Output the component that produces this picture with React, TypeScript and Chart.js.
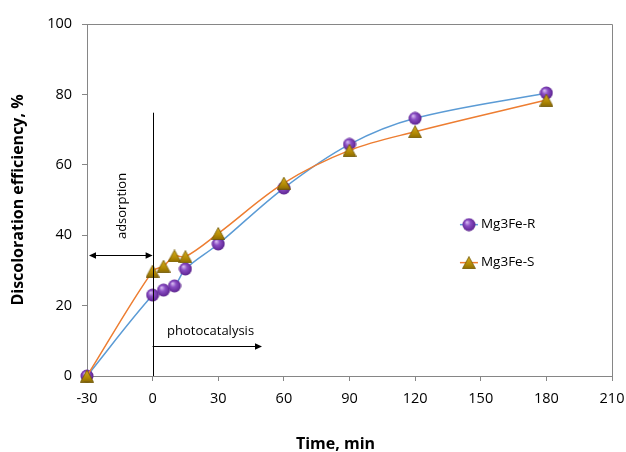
import React, { useEffect, useRef } from 'react';
import { Chart, registerables } from 'chart.js';

Chart.register(...registerables);

// ---- data ----
const timeMin = [-30, 0, 5, 10, 15, 30, 60, 90, 120, 180];
const mg3feR = [0, 23.0, 24.4, 25.6, 30.4, 37.5, 53.4, 65.8, 73.2, 80.4];
const mg3feS = [0, 29.8, 31.2, 34.1, 33.9, 40.5, 54.8, 64.1, 69.4, 78.4];
const seriesNames = ['Mg3Fe-R', 'Mg3Fe-S'];
const xRange = [-30, 210];
const yRange = [0, 100];
const xStep = 30;
const yStep = 20;
const xTitle = 'Time, min';
const yTitle = 'Discoloration efficiency, %';
const phaseLabels = ['adsorption', 'photocatalysis'];

// ---- annotation placement (data coordinates) ----
const boundaryX = 0;
const boundaryTop = 74.8;
const adsorptionArrow = { x1: -30, x2: 0, y: 34.5 };
const adsorptionText = { x: -13.7, y: 48.3 };
const photoArrow = { x1: 0, x2: 50, y: 8.6 };
const photoText = { x: 26.5, y: 12.6 };
const legendAnchor = { x: 144.6, y: 43.0 };
const legendGap = 38;

const FONT = '"Open Sans", "DejaVu Sans", sans-serif';
const BLUE = '#5B9BD5';
const ORANGE = '#ED7D31';
const AXIS = '#868686';

function makeSphere(): HTMLCanvasElement {
  const c = document.createElement('canvas');
  c.width = 14;
  c.height = 14;
  const g = c.getContext('2d')!;
  const grad = g.createRadialGradient(5, 4.5, 0.5, 7, 7, 7.5);
  grad.addColorStop(0, '#d2b4ee');
  grad.addColorStop(0.35, '#8b4fc4');
  grad.addColorStop(0.8, '#652a9a');
  grad.addColorStop(1, '#43176c');
  g.fillStyle = grad;
  g.beginPath();
  g.arc(7, 7, 6.5, 0, Math.PI * 2);
  g.fill();
  return c;
}

function makeTriangle(): HTMLCanvasElement {
  const c = document.createElement('canvas');
  c.width = 14;
  c.height = 13;
  const g = c.getContext('2d')!;
  const grad = g.createLinearGradient(0, 0, 0, 13);
  grad.addColorStop(0, '#d9b21c');
  grad.addColorStop(0.6, '#b48b06');
  grad.addColorStop(1, '#8a6a00');
  g.fillStyle = grad;
  g.beginPath();
  g.moveTo(7, 0.5);
  g.lineTo(13.5, 12.5);
  g.lineTo(0.5, 12.5);
  g.closePath();
  g.fill();
  g.strokeStyle = '#6f5500';
  g.lineWidth = 0.8;
  g.stroke();
  return c;
}

function arrowHead(ctx: CanvasRenderingContext2D, x: number, y: number, dir: number) {
  ctx.beginPath();
  ctx.moveTo(x, y);
  ctx.lineTo(x - dir * 7, y - 3.2);
  ctx.lineTo(x - dir * 7, y + 3.2);
  ctx.closePath();
  ctx.fill();
}

export default function App() {
  const ref = useRef<HTMLCanvasElement | null>(null);

  useEffect(() => {
    document.body.style.margin = '0';
    const canvas = ref.current;
    if (!canvas) return;
    const sphere = makeSphere();
    const tri = makeTriangle();

    const frame = {
      id: 'frame',
      beforeDatasetsDraw(chart: any) {
        const { ctx, chartArea } = chart;
        const l = Math.round(chartArea.left) + 0.5;
        const t = Math.round(chartArea.top) + 0.5;
        const r = Math.round(chartArea.right) + 0.5;
        const b = Math.round(chartArea.bottom) + 0.5;
        ctx.save();
        ctx.strokeStyle = AXIS;
        ctx.lineWidth = 1;
        ctx.beginPath();
        ctx.moveTo(l, t);
        ctx.lineTo(r, t);
        ctx.lineTo(r, b);
        ctx.stroke();
        ctx.restore();
      },
      afterDraw(chart: any) {
        const { ctx, chartArea, scales } = chart;
        const xs = scales.x;
        const ys = scales.y;
        ctx.save();
        // x title
        ctx.fillStyle = '#000';
        ctx.font = `bold 16px ${FONT}`;
        ctx.textAlign = 'center';
        ctx.textBaseline = 'middle';
        ctx.fillText(xTitle, (chartArea.left + chartArea.right) / 2 - 14, 444);

        // boundary line
        ctx.strokeStyle = '#000';
        ctx.fillStyle = '#000';
        ctx.lineWidth = 1;
        const bx = Math.round(xs.getPixelForValue(boundaryX)) + 0.5;
        ctx.beginPath();
        ctx.moveTo(bx, ys.getPixelForValue(boundaryTop));
        ctx.lineTo(bx, ys.getPixelForValue(0));
        ctx.stroke();

        // adsorption arrow (double headed)
        const ay = Math.round(ys.getPixelForValue(adsorptionArrow.y)) + 0.5;
        const ax1 = xs.getPixelForValue(adsorptionArrow.x1) + 2;
        const ax2 = xs.getPixelForValue(adsorptionArrow.x2);
        ctx.beginPath();
        ctx.moveTo(ax1 + 4, ay);
        ctx.lineTo(ax2 - 4, ay);
        ctx.stroke();
        arrowHead(ctx, ax1, ay, -1);
        arrowHead(ctx, ax2, ay, 1);

        // photocatalysis arrow
        const py = Math.round(ys.getPixelForValue(photoArrow.y)) + 0.5;
        const px1 = xs.getPixelForValue(photoArrow.x1);
        const px2 = xs.getPixelForValue(photoArrow.x2);
        ctx.beginPath();
        ctx.moveTo(px1, py);
        ctx.lineTo(px2 - 4, py);
        ctx.stroke();
        arrowHead(ctx, px2, py, 1);

        // texts
        ctx.font = `13px ${FONT}`;
        ctx.textAlign = 'center';
        ctx.textBaseline = 'middle';
        ctx.fillText(phaseLabels[1], xs.getPixelForValue(photoText.x), ys.getPixelForValue(photoText.y));
        ctx.save();
        ctx.translate(xs.getPixelForValue(adsorptionText.x), ys.getPixelForValue(adsorptionText.y));
        ctx.rotate(-Math.PI / 2);
        ctx.fillText(phaseLabels[0], 0, 0);
        ctx.restore();

        // legend
        const lx = xs.getPixelForValue(legendAnchor.x);
        const ly = ys.getPixelForValue(legendAnchor.y);
        const items = [
          { name: seriesNames[0], color: BLUE, img: sphere },
          { name: seriesNames[1], color: ORANGE, img: tri },
        ];
        items.forEach((it, i) => {
          const y = ly + i * legendGap;
          ctx.strokeStyle = it.color;
          ctx.lineWidth = 1.5;
          ctx.beginPath();
          ctx.moveTo(lx - 9, y);
          ctx.lineTo(lx + 9, y);
          ctx.stroke();
          ctx.drawImage(it.img, lx - it.img.width / 2, y - it.img.height / 2);
          ctx.fillStyle = '#000';
          ctx.font = `13.5px ${FONT}`;
          ctx.textAlign = 'left';
          ctx.textBaseline = 'middle';
          ctx.fillText(it.name, lx + 12, y);
        });
        ctx.restore();
      },
    };

    const tickFont = { family: FONT, size: 14.5 };
    const chart = new Chart(canvas, {
      type: 'line',
      data: {
        datasets: [
          {
            label: seriesNames[0],
            data: timeMin.map((x, i) => ({ x, y: mg3feR[i] })),
            borderColor: BLUE,
            backgroundColor: BLUE,
            borderWidth: 1.5,
            tension: 0.35,
            pointStyle: sphere,
            pointRadius: 7,
            clip: false,
            order: 1,
          },
          {
            label: seriesNames[1],
            data: timeMin.map((x, i) => ({ x, y: mg3feS[i] })),
            borderColor: ORANGE,
            backgroundColor: ORANGE,
            borderWidth: 1.5,
            tension: 0.35,
            pointStyle: tri,
            pointRadius: 7,
            clip: false,
            order: 0,
          },
        ],
      },
      options: {
        responsive: false,
        animation: false,
        events: [],
        layout: { padding: { top: 24, right: 14, left: 0, bottom: 0 } },
        plugins: { legend: { display: false }, tooltip: { enabled: false } },
        scales: {
          x: {
            type: 'linear',
            min: xRange[0],
            max: xRange[1],
            ticks: { stepSize: xStep, color: '#000', font: tickFont, padding: 9 },
            grid: { drawOnChartArea: false, drawTicks: true, tickLength: 5, color: AXIS },
            border: { color: AXIS, width: 1 },
            afterFit: (s: any) => {
              s.height = 76;
              s.paddingLeft = 0;
              s.paddingRight = 0;
            },
          },
          y: {
            min: yRange[0],
            max: yRange[1],
            ticks: { stepSize: yStep, color: '#000', font: tickFont, padding: 10 },
            grid: { drawOnChartArea: false, drawTicks: true, tickLength: 5, color: AXIS },
            border: { color: AXIS, width: 1 },
            title: {
              display: true,
              text: yTitle,
              color: '#000',
              font: { family: FONT, size: 16, weight: 'bold' },
              padding: { top: 9, bottom: 0 },
            },
            afterFit: (s: any) => {
              s.width = 87;
              s.paddingTop = 0;
              s.paddingBottom = 0;
            },
          },
        },
      } as any,
      plugins: [frame],
    });
    return () => chart.destroy();
  }, []);

  return (
    <div style={{ width: 626, height: 452, background: '#fff' }}>
      <canvas ref={ref} width={626} height={452} style={{ display: 'block' }} />
    </div>
  );
}
